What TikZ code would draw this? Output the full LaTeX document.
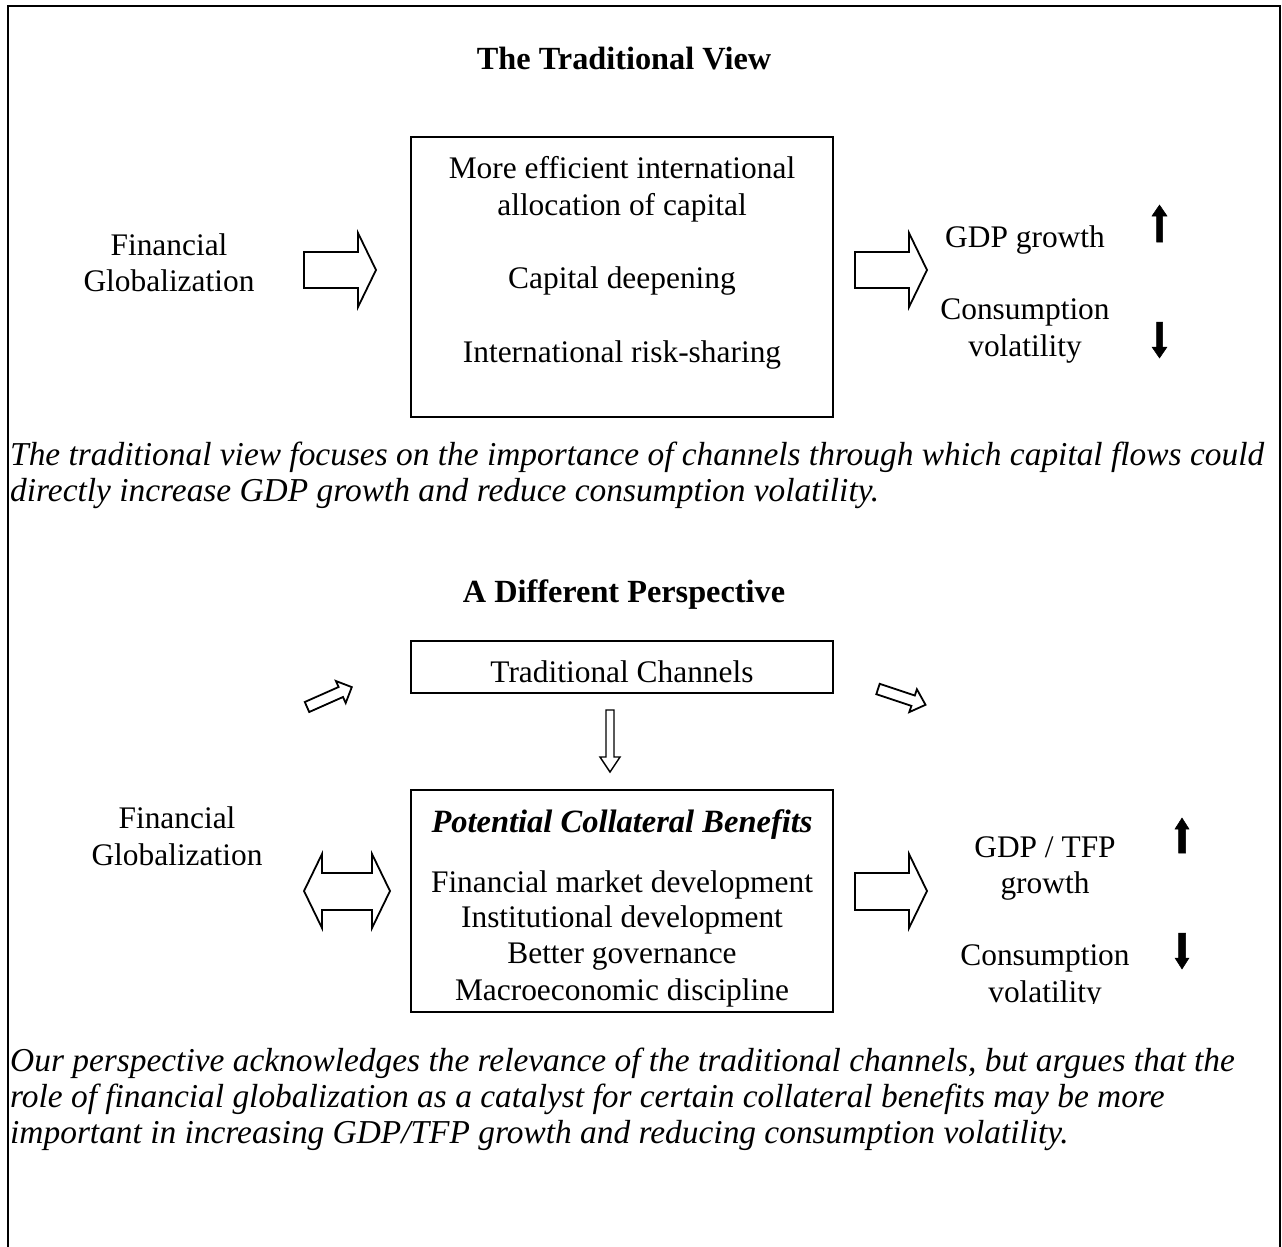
\documentclass[tikz,border=0pt]{standalone}
\usepackage{fontspec}
\setmainfont{Liberation Serif}
\begin{document}
\begin{tikzpicture}[x=1pt,y=-1pt,
  txt/.style={font=\fontsize{31.4}{36}\selectfont, inner sep=0pt, anchor=base},
  ttl/.style={txt, font=\fontsize{32.3}{36}\selectfont\bfseries},
  captxt/.style={txt, anchor=base west, font=\fontsize{33.4}{36}\selectfont\itshape},
  boxline/.style={draw, line width=1.8pt},
  blockarrow/.style={draw, line width=1.8pt, line join=miter, fill=white},
  solidarrow/.style={fill=black, draw=black, line width=0.5pt, line join=miter}]
\useasboundingbox (0,0) rectangle (1282,1247);
% outer frame
\draw[line width=2pt] (8,1250) -- (8,6) -- (1280,6) -- (1280,1250);

% ===== The Traditional View =====
\node[ttl] (t1) at (624,70) {The Traditional View};
\draw[boxline] (411,137) rectangle (833,417);
\node[txt] (b1a) at (622,178) {More efficient international};
\node[txt] (b1b) at (622,215) {allocation of capital};
\node[txt] (b1c) at (622,288) {Capital deepening};
\node[txt] (b1d) at (622,362) {International risk-sharing};

\node[txt] (fg1a) at (169,255) {Financial};
\node[txt] (fg1b) at (169,291) {Globalization};

\draw[blockarrow] (304,252) -- (358,252) -- (358,233) -- (376,270) -- (358,307) -- (358,288) -- (304,288) -- cycle;
\draw[blockarrow] (855,252) -- (909,252) -- (909,233) -- (927,270) -- (909,307) -- (909,288) -- (855,288) -- cycle;

\node[txt] (gdp1) at (1025,247) {GDP growth};
\node[txt] (cv1a) at (1025,319) {Consumption};
\node[txt] (cv1b) at (1025,356) {volatility};

\draw[solidarrow] (1156.5,242) -- (1156.5,216) -- (1152,216) -- (1159.5,205) -- (1167,216) -- (1162.5,216) -- (1162.5,242) -- cycle;
\draw[solidarrow] (1156.5,322) -- (1162.5,322) -- (1162.5,347) -- (1167,347) -- (1159.5,358) -- (1152,347) -- (1156.5,347) -- cycle;

\node[captxt] (c1a) at (10,465) {The traditional view focuses on the importance of channels through which capital flows could};
\node[captxt] (c1b) at (10,501) {directly increase GDP growth and reduce consumption volatility.};

% ===== A Different Perspective =====
\node[ttl] (t2) at (624,602) {A Different Perspective};
\draw[boxline] (411,641) rectangle (833,693);
\node[txt] (tc) at (622,682) {Traditional Channels};

% tilted arrows
\draw[blockarrow] (309.2,712.0) -- (343.0,697.0) -- (345.7,703.0) -- (351.8,687.1) -- (335.9,681.0) -- (338.6,687.0) -- (304.8,702.0) -- cycle;
\draw[blockarrow] (876.3,694.2) -- (911.4,705.9) -- (909.3,712.1) -- (925.5,704.8) -- (916.9,689.3) -- (914.8,695.5) -- (879.7,683.8) -- cycle;
% down arrow
\draw[blockarrow, line width=1.4pt] (606,710) -- (614,710) -- (614,757) -- (620,757) -- (610,772) -- (600,757) -- (606,757) -- cycle;

\draw[boxline] (411,790) rectangle (833,1012);
\node[txt, font=\fontsize{32.5}{36}\selectfont\bfseries\itshape] (pcb) at (622,832) {Potential Collateral Benefits};
\node[txt] (p1) at (622,892) {Financial market development};
\node[txt] (p2) at (622,927) {Institutional development};
\node[txt] (p3) at (622,963) {Better governance};
\node[txt] (p4) at (622,1000) {Macroeconomic discipline};

\node[txt] (fg2a) at (177,828) {Financial};
\node[txt] (fg2b) at (177,865) {Globalization};

% double arrow
\draw[blockarrow] (304,891) -- (322,854) -- (322,873) -- (372,873) -- (372,854) -- (390,891) -- (372,928) -- (372,910) -- (322,910) -- (322,928) -- cycle;
% right arrow
\draw[blockarrow] (855,873) -- (909,873) -- (909,854) -- (927,891) -- (909,928) -- (909,910) -- (855,910) -- cycle;

\node[txt] (gdp2a) at (1045,857) {GDP / TFP};
\node[txt] (gdp2b) at (1045,893) {growth};
\node[txt] (cv2a) at (1045,965) {Consumption};
\begin{scope}
\clip (930,975) rectangle (1160,1003);
\node[txt] (cv2b) at (1045,1002) {volatility};
\end{scope}

\draw[solidarrow] (1178.5,853) -- (1178.5,829) -- (1175,829) -- (1182,818) -- (1189,829) -- (1185.5,829) -- (1185.5,853) -- cycle;
\draw[solidarrow] (1178.5,933) -- (1185.5,933) -- (1185.5,958) -- (1189,958) -- (1182,969) -- (1175,958) -- (1178.5,958) -- cycle;

\node[captxt] (c2a) at (10,1071) {Our perspective acknowledges the relevance of the traditional channels, but argues that the};
\node[captxt] (c2b) at (10,1107) {role of financial globalization as a catalyst for certain collateral benefits may be more};
\node[captxt] (c2c) at (10,1143) {important in increasing GDP/TFP growth and reducing consumption volatility.};
\end{tikzpicture}
\end{document}
